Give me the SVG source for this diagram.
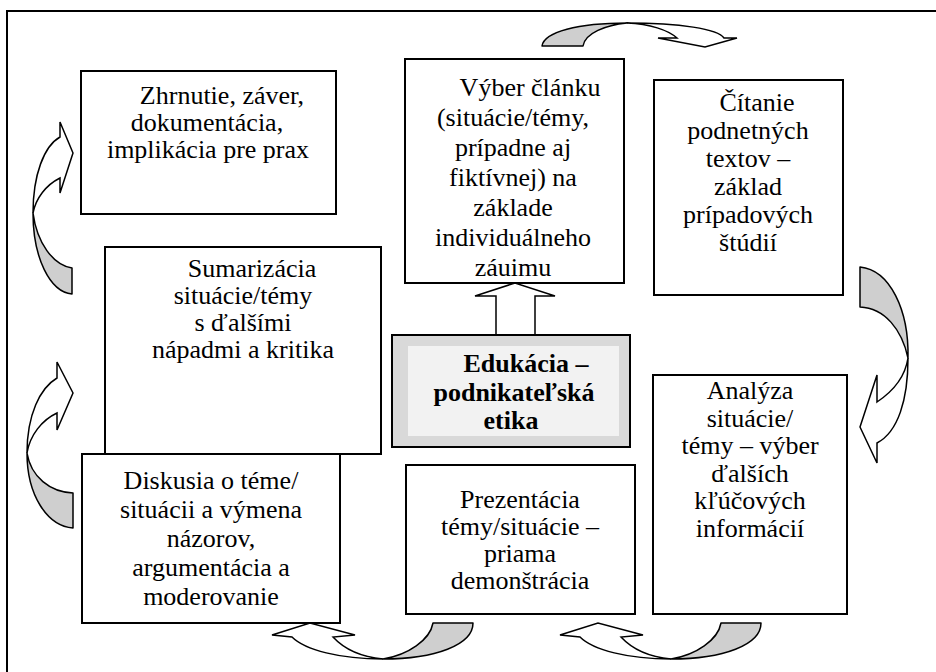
<svg xmlns="http://www.w3.org/2000/svg" width="936" height="672" viewBox="0 0 936 672">
<style>
.box{fill:#fff;stroke:#000;stroke-width:2}
.t{font-family:"Liberation Serif","Times New Roman",serif;font-size:26px;fill:#000;text-anchor:middle}
.b{font-weight:bold}
.g{fill:#cfcfcf;stroke:#000;stroke-width:1.5;stroke-linejoin:round}
.w{fill:#fff;stroke:#000;stroke-width:1.5;stroke-linejoin:miter}
</style>
<rect x="7" y="11" width="945" height="680" fill="#fff" stroke="#000" stroke-width="2"/>

<g id="connectors">
  <path class="g" d="M542,46 C544,32 578,23 627,23 C606,25 585,33 583,46 Z"/>
  <path class="w" d="M627,23 C680,23 718,29 724,38 L737,38 L705,47 L658,38 L677,38 C668,30 650,24 627,23 Z"/>
  <path class="g" d="M860,267 C890,270 909,310 908,358 C902,330 885,308 860,307 Z"/>
  <path class="w" d="M908,358 C908,400 898,432 877,443 L877,463 L860,427 L877,375 L877,402 C892,392 905,378 908,358 Z"/>
  <path class="g" d="M433,623 L473,623 C473,645 435,659 383,659 C408,655 430,640 433,623 Z"/>
  <path class="w" d="M383,659 C340,659 305,650 292,637 L272,635 L310,623 L355,635 L333,637 C345,650 362,657 383,659 Z"/>
  <g transform="translate(288 0)">
    <path class="g" d="M433,623 L473,623 C473,645 435,659 383,659 C408,655 430,640 433,623 Z"/>
    <path class="w" d="M383,659 C340,659 305,650 292,637 L272,635 L310,623 L355,635 L333,637 C345,650 362,657 383,659 Z"/>
  </g>
  <path class="g" d="M72,268 L72,294 C50,292 33,258 33,213 C37,243 53,265 72,268 Z"/>
  <path class="w" d="M33,213 C33,175 44,146 60,137 L60,122 L73,153 L60,193 L60,178 C46,185 36,198 33,213 Z"/>
  <path class="g" d="M73,493 L73,528 C47,526 27,495 27,453 C31,477 50,492 73,493 Z"/>
  <path class="w" d="M27,453 C27,415 40,388 57,378 L57,362 L73,393 L57,430 L57,413 C42,420 30,435 27,453 Z"/>
  <path class="w" d="M496,335 L496,296 L475,296 L515,283 L555,296 L535,296 L535,335 Z"/>
</g>

<g id="zhrnutie">
  <rect class="box" x="81" y="71" width="255" height="143"/>
  <text class="t" x="222" y="104">Zhrnutie, záver,</text>
  <text class="t" x="207" y="131">dokumentácia,</text>
  <text class="t" x="208" y="158">implikácia pre prax</text>
</g>

<g id="vyber">
  <rect class="box" x="405" y="59" width="219" height="224"/>
  <text class="t" x="530" y="96">Výber článku</text>
  <text class="t" x="513" y="126">(situácie/témy,</text>
  <text class="t" x="513" y="156">prípadne aj</text>
  <text class="t" x="513" y="186">fiktívnej) na</text>
  <text class="t" x="513" y="216">základe</text>
  <text class="t" x="513" y="246">individuálneho</text>
  <text class="t" x="513" y="276">záuimu</text>
</g>

<g id="citanie">
  <rect class="box" x="654" y="80" width="189" height="215"/>
  <text class="t" x="757" y="111">Čítanie</text>
  <text class="t" x="748" y="139">podnetných</text>
  <text class="t" x="748" y="167">textov –</text>
  <text class="t" x="748" y="195">základ</text>
  <text class="t" x="748" y="223">prípadových</text>
  <text class="t" x="748" y="251">štúdií</text>
</g>

<g id="sumarizacia">
  <rect class="box" x="105" y="247" width="276" height="207"/>
  <text class="t" x="252" y="277">Sumarizácia</text>
  <text class="t" x="243" y="304">situácie/témy</text>
  <text class="t" x="243" y="331">s ďalšími</text>
  <text class="t" x="243" y="358">nápadmi a kritika</text>
</g>

<g id="edukacia">
  <rect x="392" y="335" width="238" height="112" fill="#d9d9d9" stroke="#000" stroke-width="2"/>
  <rect x="408" y="346" width="211" height="90" fill="#f2f2f2"/>
  <text class="t b" x="526" y="372">Edukácia –</text>
  <text class="t b" x="514" y="401">podnikateľská</text>
  <text class="t b" x="511" y="429">etika</text>
</g>

<g id="diskusia">
  <rect class="box" x="82" y="454" width="258" height="169"/>
  <text class="t" x="211" y="489">Diskusia o téme/</text>
  <text class="t" x="211" y="518">situácii a výmena</text>
  <text class="t" x="211" y="547">názorov,</text>
  <text class="t" x="211" y="576">argumentácia a</text>
  <text class="t" x="211" y="605">moderovanie</text>
</g>

<g id="prezentacia">
  <rect class="box" x="406" y="465" width="229" height="149"/>
  <text class="t" x="520" y="508">Prezentácia</text>
  <text class="t" x="520" y="535">témy/situácie –</text>
  <text class="t" x="520" y="562">priama</text>
  <text class="t" x="520" y="589">demonštrácia</text>
</g>

<g id="analyza">
  <rect class="box" x="653" y="375" width="194" height="239"/>
  <text class="t" x="750" y="399">Analýza</text>
  <text class="t" x="750" y="426.5">situácie/</text>
  <text class="t" x="750" y="454">témy – výber</text>
  <text class="t" x="750" y="481.5">ďalších</text>
  <text class="t" x="750" y="509">kľúčových</text>
  <text class="t" x="750" y="536.5">informácií</text>
</g>
</svg>
